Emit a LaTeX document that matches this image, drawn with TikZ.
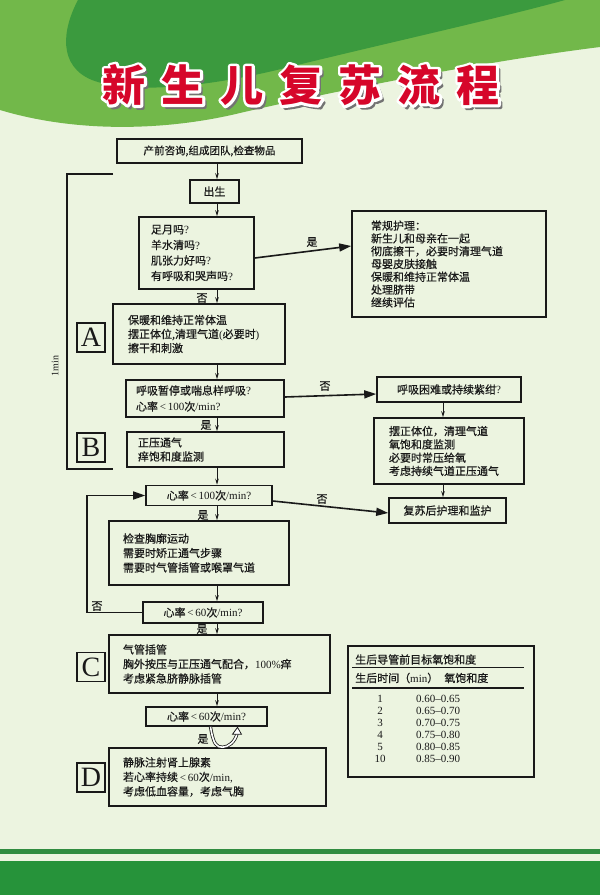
\documentclass[tikz,border=0pt]{standalone}
\usepackage{fontspec}
\setmainfont{Liberation Serif}
\newfontfamily\cjk[FakeBold=0.6]{Noto Sans CJK SC}
\newfontfamily\cjkttl{Noto Sans CJK SC}
\usetikzlibrary{arrows.meta,calc}
\newcommand\myfs[2]{\fontsize{#1pt}{#2pt}\selectfont}
\newcommand\lat[1]{{\rmfamily #1}}
\definecolor{bgcream}{RGB}{236,244,224}
\definecolor{lgreen}{RGB}{114,184,74}
\definecolor{dgreen}{RGB}{59,154,62}
\definecolor{bgreen}{RGB}{38,147,58}
\definecolor{sgreen}{RGB}{48,140,64}
\definecolor{ttlred}{RGB}{214,6,42}
\definecolor{ink}{RGB}{25,25,25}
\newcommand\ttl{新\hskip16pt 生\hskip16pt 儿\hskip16pt 复\hskip16pt 苏\hskip16pt 流\hskip16pt 程}
\newcommand\strokettl[1]{\special{pdf:literal direct 1 Tr #1 w 1 j}\ttl\special{pdf:literal direct 0 Tr}}
\tikzset{
  box/.style={draw=ink, line width=1.6pt, inner sep=0pt, align=center, text=ink, font=\cjk\myfs{11}{14}},
  lbox/.style={box, align=left},
  letterbox/.style={draw=ink, line width=1.8pt, inner sep=0pt, minimum width=28pt, minimum height=29pt, text=ink, font=\rmfamily\myfs{28}{28}},
  lbl/.style={inner sep=0pt, text=ink, font=\cjk\myfs{11}{11}},
  sarrow/.style={draw=ink, line width=0.9pt, -{Stealth[length=6pt,width=3.5pt]}},
  barrow/.style={draw=ink, line width=1.6pt, -{Triangle[length=12pt,width=8pt]}},
  ttlstyle/.style={inner sep=0pt, font=\cjkttl\bfseries\myfs{43}{43}},
  tabtxt/.style={inner sep=0pt, text=ink, font=\cjk\myfs{11}{11}},
  tabnum/.style={inner sep=0pt, text=ink, font=\rmfamily\myfs{11}{11}}
}
\begin{document}
\begin{tikzpicture}[x=1pt,y=-1pt]
\useasboundingbox (0,0) rectangle (600,895);
% background
\fill[bgcream] (0,0) rectangle (600,895);
\fill[lgreen] (0,0) -- (600,0) -- (600,47) .. controls (480,62) and (330,92) .. (240,113) .. controls (170,130) and (80,134) .. (0,110) -- cycle;
\fill[dgreen] (78,0) .. controls (62,30) and (58,66) .. (92,80) .. controls (128,94) and (205,88) .. (285,68) .. controls (400,40) and (500,18) .. (565,0) -- cycle;
\fill[sgreen] (0,849) rectangle (600,854);
\fill[bgreen] (0,861) rectangle (600,895);
% title: shadow, white outline, red fill
\node[ttlstyle, text=black!55] (ttlsh) at (303.5,88) {\strokettl{3}};
\node[ttlstyle, text=white] (ttlw) at (301,85) {\strokettl{5.5}};
\node[ttlstyle, text=ttlred] (title) at (301,85) {\ttl};
% spine coordinates
\coordinate (sp) at (217,0);
\coordinate (sp2) at (443,0);
% left bracket
\draw[ink, line width=1.8pt] (113,174) -- (67,174) -- (67,469) -- (113,469);
\node[lbl, rotate=90, font=\rmfamily\myfs{10}{10}] (onemin) at (55,366) {1min};
% boxes
\node[box, minimum width=185pt, minimum height=24pt, font=\cjk\myfs{10.5}{12}] (b1) at (209.5,151) {产前咨询,组成团队,检查物品};
\node[box, minimum width=49pt, minimum height=23pt] (born) at (214.5,191.5) {出生};
\node[lbox, text width=91pt, inner xsep=12pt, minimum height=72pt, font=\cjk\myfs{11}{15.5}] (q1) at (196.5,253) {足月吗\lat{?}\\羊水清吗\lat{?}\\肌张力好吗\lat{?}\\有呼吸和哭声吗\lat{?}};
\node[lbox, text width=156pt, inner xsep=19pt, minimum height=106pt, font=\cjk\myfs{11}{12.8}] (routine) at (449,264) {常规护理：\\新生儿和母亲在一起\\彻底擦干，必要时清理气道\\母婴皮肤接触\\保暖和维持正常体温\\处理脐带\\继续评估};
\node[lbox, text width=142pt, inner xsep=15pt, minimum height=60pt, font=\cjk\myfs{11}{14}] (A) at (199,334) {保暖和维持正常体温\\摆正体位,清理气道\lat{(}必要时\lat{)}\\擦干和刺激};
\node[letterbox] (LA) at (91,337.5) {A};
\node[lbox, text width=138pt, inner xsep=10pt, minimum height=37pt, font=\cjk\myfs{11}{16}] (q2) at (205,398.5) {呼吸暂停或喘息样呼吸\lat{?}\\心率\lat{\,<\,100}次\lat{/min?}};
\node[lbox, text width=135pt, inner xsep=11pt, minimum height=35pt, font=\cjk\myfs{11}{14}] (B) at (205.5,449.5) {正压通气\\痒饱和度监测};
\node[letterbox] (LB) at (91,447.5) {B};
\node[box, minimum width=144pt, minimum height=25pt] (dist) at (449,389.5) {呼吸困难或持续紫绀\lat{?}};
\node[lbox, text width=120pt, inner xsep=15pt, minimum height=66pt, font=\cjk\myfs{11}{13.3}] (care) at (449,451) {摆正体位，清理气道\\氧饱和度监测\\必要时常压给氧\\考虑持续气道正压通气};
\node[box, minimum width=117pt, minimum height=25pt] (post) at (447.5,510.5) {复苏后护理和监护};
\node[box, minimum width=126pt, minimum height=20pt] (hr100) at (209,495.5) {心率\lat{\,<\,100}次\lat{/min?}};
\node[lbox, text width=152pt, inner xsep=14pt, minimum height=64pt, font=\cjk\myfs{11}{14.5}] (chk) at (199,553) {检查胸廓运动\\需要时矫正通气步骤\\需要时气管插管或喉罩气道};
\node[box, minimum width=120pt, minimum height=21pt] (hr60a) at (203,612.5) {心率\lat{\,<\,60}次\lat{/min?}};
\node[lbox, text width=193pt, inner xsep=14pt, minimum height=58pt, font=\cjk\myfs{11}{14.5}] (C) at (219.5,664) {气管插管\\胸外按压与正压通气配合，\lat{100\%}痒\\考虑紧急脐静脉插管};
\node[letterbox] (LC) at (91,667) {C};
\node[box, minimum width=121pt, minimum height=19pt] (hr60b) at (206.5,716.5) {心率\lat{\,<\,60}次\lat{/min?}};
\node[lbox, text width=189pt, inner xsep=14pt, minimum height=58pt, font=\cjk\myfs{11}{14.5}] (D) at (217.5,777) {静脉注射肾上腺素\\若心率持续\lat{\,<\,60}次\lat{/min,}\\考虑低血容量，考虑气胸};
\node[letterbox] (LD) at (91,777.5) {D};
% table
\node[draw=ink, line width=1.8pt, minimum width=186pt, minimum height=131pt, inner sep=0pt] (tab) at (441,711.5) {};
\node[tabtxt, anchor=west] (tabtitle) at (355,659.5) {生后导管前目标氧饱和度};
\draw[ink, line width=1.6pt] ($(tab.north west)+(5,22.5)$) -- ($(tab.north east)+(-11,22.5)$);
\node[tabtxt, anchor=west] (tabhead) at (355,678) {生后时间（\lat{min}）\hskip6pt 氧饱和度};
\draw[ink, line width=1.6pt] ($(tab.north west)+(5,43)$) -- ($(tab.north east)+(-11,43)$);
\foreach \n/\r [count=\i] in {1/0.60--0.65, 2/0.65--0.70, 3/0.70--0.75, 4/0.75--0.80, 5/0.80--0.85, 10/0.85--0.90} {
  \node[tabnum] (tn\i) at (380,687+12*\i) {\n};
  \node[tabnum, anchor=west] (tr\i) at (416,687+12*\i) {\r};
}
% main connectors
\draw[sarrow] (b1.south -| sp) -- (born.north -| sp);
\draw[sarrow] (born.south -| sp) -- (q1.north -| sp);
\draw[sarrow] (q1.south -| sp) -- (A.north -| sp);
\node[lbl] (no1) at (202,298) {否};
\draw[barrow] ($(q1.east)+(0,5)$) -- ($(routine.west)+(0,-18)$);
\node[lbl] (yes1) at (312,242) {是};
\draw[sarrow] (A.south -| sp) -- (q2.north -| sp);
\draw[sarrow] (q2.south -| sp) -- (B.north -| sp);
\node[lbl] (yes2) at (206,425) {是};
\draw[barrow] ($(q2.east)+(0,-1.5)$) -- ($(dist.west)+(0,4.5)$);
\node[lbl] (no2) at (325,386) {否};
\draw[sarrow] (dist.south -| sp2) -- (care.north -| sp2);
\draw[sarrow] (care.south -| sp2) -- (post.north -| sp2);
\draw[sarrow] (B.south -| sp) -- (hr100.north -| sp);
\draw[barrow] ($(hr100.east)+(0,5.5)$) -- ($(post.west)+(0,2.5)$);
\node[lbl] (no3) at (322,499) {否};
\draw[sarrow] (hr100.south -| sp) -- (chk.north -| sp);
\node[lbl] (yes3) at (203,515) {是};
\draw[sarrow] (chk.south -| sp) -- (hr60a.north -| sp);
\draw[barrow] (hr60a.west) -- ++(-55,0) |- (hr100.west);
\node[lbl] (no4) at (97,606) {否};
\draw[sarrow] (hr60a.south -| sp) -- (C.north -| sp);
\node[lbl] (yes4) at (202,629) {是};
\draw[sarrow] (C.south -| sp) -- (hr60b.north -| sp);
% U-shaped arrow
\coordinate (ua) at ($(hr60b.south)+(4,0)$);
\coordinate (ub) at ($(D.north)+(5,0)$);
\coordinate (uc) at ($(hr60b.south)+(30.5,7)$);
\draw[draw=ink, line width=0.8pt, double=white, double distance=1.6pt] (ua) .. controls ($(ua)+(3,18)$) and ($(ub)+(-6,0)$) .. (ub) .. controls ($(ub)+(6,0)$) and ($(uc)+(-2,8)$) .. (uc);
\draw[draw=ink, line width=0.8pt, fill=white] ($(uc)+(-4.5,0.5)$) -- ($(uc)+(4.5,0.5)$) -- ($(uc)+(0.5,-6.5)$) -- cycle;
\node[lbl] (yes5) at (203,739) {是};
\end{tikzpicture}
\end{document}
